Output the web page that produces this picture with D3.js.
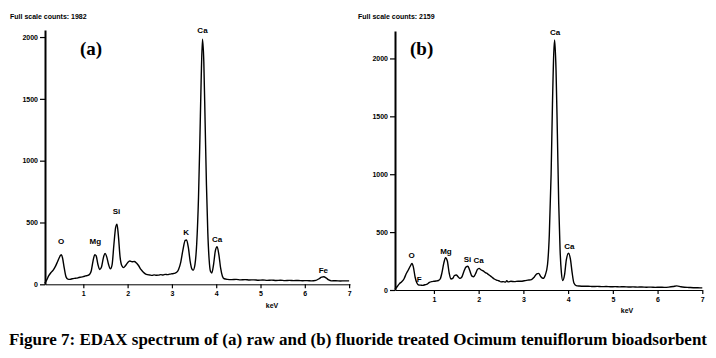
<!DOCTYPE html>
<html><head><meta charset="utf-8">
<script src="https://cdn.jsdelivr.net/npm/d3@7"></script>
<style>
html,body{margin:0;padding:0;background:#fff;}
svg{display:block;}
.tk text{font-family:"Liberation Sans",Arial,sans-serif;font-weight:bold;font-size:7px;fill:#000;}
</style></head>
<body>
<svg id="c" width="716" height="358"></svg>
<script>
// ---- data ----
const yTicks = [0, 500, 1000, 1500, 2000];
const xTicks = [1, 2, 3, 4, 5, 6, 7];
const fullScaleA = 1982;
const fullScaleB = 2159;
const specA = [[0.13,8],[0.18,40],[0.22,70],[0.27,95],[0.32,115],[0.37,145],[0.42,185],[0.47,225],[0.50,240],[0.53,215],[0.57,130],[0.61,60],[0.65,42],[0.70,40],[0.75,45],[0.80,48],[0.85,50],[0.90,55],[0.95,58],[1.00,62],[1.05,68],[1.10,72],[1.14,80],[1.18,110],[1.22,190],[1.26,240],[1.29,230],[1.33,160],[1.37,120],[1.41,140],[1.45,210],[1.49,250],[1.53,220],[1.57,160],[1.61,125],[1.65,160],[1.69,320],[1.73,460],[1.76,487],[1.79,400],[1.83,220],[1.87,150],[1.91,135],[1.95,150],[2.00,175],[2.05,188],[2.10,182],[2.15,185],[2.20,172],[2.25,150],[2.30,120],[2.35,100],[2.40,85],[2.45,78],[2.50,75],[2.55,72],[2.60,76],[2.65,73],[2.70,74],[2.75,78],[2.80,75],[2.85,80],[2.90,78],[2.95,82],[3.00,85],[3.05,88],[3.10,95],[3.15,120],[3.20,180],[3.25,280],[3.30,355],[3.33,358],[3.37,300],[3.41,190],[3.45,125],[3.48,115],[3.52,160],[3.56,330],[3.60,700],[3.63,1150],[3.66,1650],[3.69,1982],[3.72,1800],[3.75,1300],[3.78,800],[3.81,420],[3.84,200],[3.87,105],[3.90,92],[3.94,160],[3.98,270],[4.02,304],[4.06,240],[4.10,130],[4.14,65],[4.18,45],[4.25,40],[4.35,38],[4.45,40],[4.55,36],[4.65,38],[4.75,35],[4.85,36],[4.95,33],[5.05,35],[5.15,32],[5.25,34],[5.35,31],[5.45,33],[5.55,30],[5.65,32],[5.75,30],[5.85,31],[5.95,29],[6.05,30],[6.15,28],[6.25,32],[6.32,45],[6.38,58],[6.43,61],[6.48,52],[6.54,35],[6.60,28],[6.70,29],[6.80,27],[6.90,28],[7.00,28]];
const specB = [[0.13,6],[0.18,30],[0.23,55],[0.28,72],[0.33,95],[0.38,140],[0.43,175],[0.47,205],[0.51,230],[0.54,200],[0.58,110],[0.62,60],[0.66,43],[0.70,42],[0.75,40],[0.80,45],[0.85,50],[0.90,65],[0.95,72],[1.00,75],[1.05,78],[1.10,82],[1.14,95],[1.18,150],[1.22,230],[1.26,279],[1.30,250],[1.34,150],[1.38,95],[1.42,100],[1.46,125],[1.50,130],[1.54,115],[1.58,100],[1.62,110],[1.67,160],[1.72,200],[1.76,205],[1.80,170],[1.85,120],[1.89,115],[1.93,140],[1.97,175],[2.01,187],[2.05,175],[2.10,165],[2.15,150],[2.20,140],[2.25,125],[2.30,110],[2.35,95],[2.40,86],[2.45,80],[2.50,70],[2.55,72],[2.60,68],[2.63,80],[2.66,70],[2.72,75],[2.80,72],[2.88,76],[2.95,75],[3.02,80],[3.10,85],[3.18,90],[3.24,110],[3.30,140],[3.34,144],[3.39,115],[3.44,100],[3.49,130],[3.54,220],[3.58,480],[3.62,1000],[3.65,1600],[3.68,2050],[3.70,2159],[3.73,1900],[3.76,1350],[3.79,750],[3.82,350],[3.85,150],[3.88,82],[3.92,130],[3.96,260],[4.01,317],[4.05,270],[4.09,150],[4.13,60],[4.18,38],[4.25,34],[4.35,32],[4.45,33],[4.55,30],[4.65,31],[4.75,29],[4.85,30],[4.95,28],[5.05,29],[5.15,27],[5.25,28],[5.35,26],[5.45,27],[5.55,25],[5.65,26],[5.75,24],[5.85,25],[5.95,23],[6.05,24],[6.15,23],[6.25,25],[6.35,30],[6.43,36],[6.52,28],[6.60,24],[6.70,22],[6.80,20],[6.90,19],[7.00,18]];
// element labels: [name, keV, counts at label]
const labelsA = [["O",0.50,330],["Mg",1.27,325],["Si",1.75,565],["K",3.32,400],["Ca",3.69,2030],["Ca",4.02,340],["Fe",6.42,90]];
const labelsB = [["O",0.50,280],["F",0.67,70],["Mg",1.27,310],["Si",1.75,245],["Ca",2.00,230],["Ca",3.71,2200],["Ca",4.03,355]];
const caption = "Figure 7: EDAX spectrum of (a) raw and (b) fluoride treated Ocimum tenuiflorum bioadsorbent";

const svg = d3.select("#c");

function panel(cfg){
  const g = svg.append("g");
  const x = d3.scaleLinear().domain(cfg.xd).range(cfg.xr);
  const y = d3.scaleLinear().domain(cfg.yd).range(cfg.yr);
  // y axis
  const ya = g.append("g").attr("class","tk").attr("transform",`translate(${cfg.xr[0]},0)`)
    .call(d3.axisLeft(y).tickValues(yTicks).tickSizeInner(5).tickSizeOuter(0).tickPadding(2).tickFormat(d3.format("d")));
  ya.select(".domain").attr("stroke","#000").attr("stroke-width",2);
  ya.selectAll(".tick line").attr("stroke","#000").attr("stroke-width",1.2);
  ya.selectAll(".tick text").attr("dy","0.33em");
  // x axis
  const xa = g.append("g").attr("class","tk").attr("transform",`translate(0,${cfg.yr[0]})`)
    .call(d3.axisBottom(x).tickValues(xTicks).tickSizeInner(4).tickSizeOuter(0).tickPadding(3).tickFormat(d3.format("d")));
  xa.select(".domain").attr("stroke","#000").attr("stroke-width",1);
  xa.selectAll(".tick line").attr("stroke","#000").attr("stroke-width",1.2);
  // spectrum
  const line = d3.line().x(d=>x(d[0])).y(d=>y(d[1])).curve(d3.curveMonotoneX);
  g.append("path").datum(cfg.data).attr("d",line).attr("fill","none").attr("stroke","#000").attr("stroke-width",1.4).attr("stroke-linejoin","round");
  // element labels
  g.selectAll("text.el").data(cfg.labels).enter().append("text")
    .attr("x",d=>x(d[1])).attr("y",d=>y(d[2])).attr("text-anchor","middle")
    .attr("font-family","Liberation Sans, Arial, sans-serif").attr("font-weight","bold").attr("font-size","8px")
    .text(d=>d[0]);
  // keV label
  g.append("text").attr("x",cfg.kevX).attr("y",cfg.kevY).attr("text-anchor","middle")
    .attr("font-family","Liberation Sans, Arial, sans-serif").attr("font-weight","bold").attr("font-size","7px").text("keV");
  // full scale
  g.append("text").attr("x",cfg.fsX).attr("y",19)
    .attr("font-family","Liberation Sans, Arial, sans-serif").attr("font-weight","bold").attr("font-size","7px")
    .text("Full scale counts: " + cfg.fs);
  // panel tag
  g.append("text").attr("x",cfg.tagX).attr("y",54.5)
    .attr("font-family","Liberation Serif, Times New Roman, serif").attr("font-weight","bold").attr("font-size","19px")
    .text(cfg.tag);
}

panel({xd:[0.135,7.02], xr:[45,350], yd:[0,2057], yr:[284.3,30], data:specA, labels:labelsA,
  kevX:272, kevY:308, fsX:10, fs:fullScaleA, tagX:80, tag:"(a)"});
panel({xd:[0.13,7.0], xr:[395,702.3], yd:[0,2237], yr:[290,31], data:specB, labels:labelsB,
  kevX:627, kevY:313, fsX:358, fs:fullScaleB, tagX:410, tag:"(b)"});

svg.append("text").attr("x",358).attr("y",345).attr("text-anchor","middle")
  .attr("font-family","Liberation Serif, Times New Roman, serif").attr("font-weight","bold").attr("font-size","16px")
  .attr("textLength",698).attr("lengthAdjust","spacingAndGlyphs")
  .text(caption);
</script>
</body></html>
